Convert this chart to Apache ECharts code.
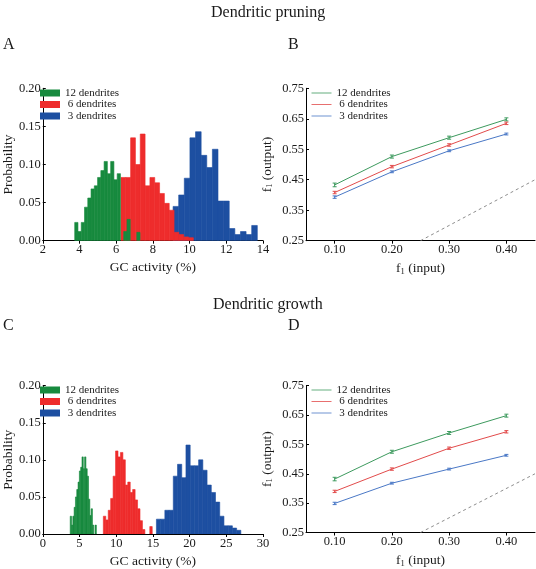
<!DOCTYPE html>
<html>
<head>
<meta charset="utf-8">
<script src="https://cdn.jsdelivr.net/npm/echarts@6/dist/echarts.min.js"></script>
<style>html,body{margin:0;padding:0;background:#fff}#c{width:536px;height:569px}</style>
</head>
<body>
<div id="c"></div>
<script>
// ---------------- DATA ----------------
const seriesNames = ['12 dendrites', ' 6 dendrites', ' 3 dendrites'];
const lineNames = ['12 dendrites ', ' 6 dendrites ', ' 3 dendrites '];

// Panel A histograms (GC activity %, probability per bin)
const greenA_start = 3.74, greenA_width = 0.178;
const greenA = [0.024, 0.012, 0.024, 0.044, 0.056, 0.068, 0.072, 0.083, 0.092, 0.104,
                0.088, 0.104, 0.080, 0.088, 0.0, 0.012, 0.028, 0.0, 0.0, 0.011];
const redA_start = 6.26, redA_width = 0.263;
const redA = [0.083, 0.083, 0.135, 0.100, 0.140, 0.072, 0.083, 0.076, 0.062, 0.049,
              0.040, 0.011, 0.008, 0.005, 0.004];
const blueA_start = 9.10, blueA_width = 0.306;
const blueA = [0.045, 0.060, 0.082, 0.135, 0.143, 0.112, 0.096, 0.120, 0.052, 0.052,
               0.016, 0.008, 0.012, 0.008, 0.020];

// Panel C histograms
const greenC_start = 3.74, greenC_width = 0.178;
const greenC = [0.024, 0.012, 0.024, 0.036, 0.050, 0.060, 0.070, 0.085, 0.090, 0.104,
                0.088, 0.104, 0.088, 0.078, 0.047, 0.025, 0.034, 0.012, 0.0, 0.012];
const redC_start = 8.25, redC_width = 0.333;
const redC = [0.024, 0.019, 0.032, 0.048, 0.078, 0.112, 0.104, 0.110, 0.100, 0.066,
              0.070, 0.056, 0.060, 0.046, 0.034, 0.018, 0.006, 0.0, 0.0, 0.010];
const blueC_start = 15.48, blueC_width = 0.575;
const blueC = [0.020, 0.020, 0.032, 0.032, 0.078, 0.094, 0.076, 0.120, 0.092, 0.092,
               0.100, 0.086, 0.066, 0.056, 0.043, 0.024, 0.011, 0.011, 0.008, 0.005];

// Panels B & D: f1(output) vs f1(input)
const fIn = [0.10, 0.20, 0.30, 0.40];
const B_green = [0.433, 0.526, 0.588, 0.648];
const B_red   = [0.408, 0.493, 0.564, 0.635];
const B_blue  = [0.393, 0.476, 0.545, 0.600];
const D_green = [0.432, 0.525, 0.589, 0.648];
const D_red   = [0.390, 0.466, 0.537, 0.593];
const D_blue  = [0.349, 0.418, 0.466, 0.513];
const err_green = [0.006, 0.005, 0.005, 0.005];
const err_red   = [0.004, 0.004, 0.004, 0.004];
const err_blue  = [0.004, 0.003, 0.003, 0.003];
const identity = [[0.25, 0.25], [0.45, 0.45]];

const histXTicksA = [2, 14, 2];
const histXTicksC = [0, 30, 5];
const probTicks = [0, 0.2, 0.05];
const fInTicks = [0.10, 0.20, 0.30, 0.40];
const fOutTicks = [0.25, 0.35, 0.45, 0.55, 0.65, 0.75];

// ---------------- STYLE ----------------
const FONT = 'Liberation Serif';
const HCOL = ['#178a3e', '#ee2c2c', '#1d4fa1'];
const LCOL = ['#3d9a5e', '#e24b4b', '#4a78c6'];
const TXT = '#1a1a1a';

function bins(start, width, h) {
  return h.map((v, i) => [start + i * width, start + (i + 1) * width, v]);
}

function histSeries(name, color, data, idx) {
  return {
    type: 'custom', name: name, xAxisIndex: idx, yAxisIndex: idx,
    itemStyle: { color: color },
    encode: { x: [0, 1], y: 2 },
    data: data,
    clip: true,
    renderItem: function (params, api) {
      const p0 = api.coord([api.value(0), 0]);
      const p1 = api.coord([api.value(1), api.value(2)]);
      if (api.value(2) <= 0) return null;
      return {
        type: 'rect',
        shape: { x: p0[0], y: p1[1], width: p1[0] - p0[0], height: p0[1] - p1[1] },
        style: { fill: color, stroke: color, lineWidth: 0.6 }
      };
    }
  };
}

function lineSeries(name, color, ys, idx) {
  return {
    type: 'line', name: name, xAxisIndex: idx, yAxisIndex: idx,
    data: fIn.map((x, i) => [x, ys[i]]),
    symbol: 'none', lineStyle: { color: color, width: 1 }, itemStyle: { color: color },
    silent: true, z: 3
  };
}

function errSeries(color, ys, errs, idx) {
  return {
    type: 'custom', xAxisIndex: idx, yAxisIndex: idx,
    data: fIn.map((x, i) => [x, ys[i], errs[i]]),
    encode: { x: 0, y: 1 },
    z: 4, silent: true,
    renderItem: function (params, api) {
      const x = api.value(0), y = api.value(1), e = api.value(2);
      const lo = api.coord([x, y - e]), hi = api.coord([x, y + e]);
      const st = { stroke: color, lineWidth: 1 };
      return {
        type: 'group', children: [
          { type: 'line', shape: { x1: lo[0], y1: lo[1], x2: hi[0], y2: hi[1] }, style: st },
          { type: 'line', shape: { x1: lo[0] - 2, y1: lo[1], x2: lo[0] + 2, y2: lo[1] }, style: st },
          { type: 'line', shape: { x1: hi[0] - 2, y1: hi[1], x2: hi[0] + 2, y2: hi[1] }, style: st }
        ]
      };
    }
  };
}

function identitySeries(idx) {
  return {
    type: 'line', xAxisIndex: idx, yAxisIndex: idx, data: identity, symbol: 'none', silent: true,
    lineStyle: { color: '#808080', width: 0.9, type: [3, 3] }, z: 1
  };
}

const axisLineStyle = { show: true, lineStyle: { color: '#000', width: 1 } };
const labelStyle = { color: TXT, fontFamily: FONT, fontSize: 12.5 };
const nameStyle = { color: TXT, fontFamily: FONT, fontSize: 13.5 };
const richName = {
  a: { fontFamily: FONT, fontSize: 13.5, color: TXT, lineHeight: 16, verticalAlign: 'middle' },
  s: { fontFamily: FONT, fontSize: 8.5, color: TXT, lineHeight: 16, verticalAlign: 'middle', padding: [6, 0, 0, 0] }
};

function histX(idx, t) {
  return {
    type: 'value', gridIndex: idx, min: t[0], max: t[1], interval: t[2],
    axisLine: axisLineStyle, splitLine: { show: false },
    axisTick: { show: true, inside: false, length: 3, lineStyle: { color: '#000' } },
    axisLabel: Object.assign({ margin: 3 }, labelStyle),
    name: 'GC activity (%)', nameLocation: 'middle', nameGap: 20, nameTextStyle: nameStyle
  };
}
function histY(idx) {
  return {
    type: 'value', gridIndex: idx, min: probTicks[0], max: probTicks[1], interval: probTicks[2],
    axisLine: axisLineStyle, splitLine: { show: false },
    axisTick: { show: true, inside: true, length: 3, lineStyle: { color: '#000' } },
    axisLabel: Object.assign({ margin: 2, formatter: v => v.toFixed(2) }, labelStyle),
    name: 'Probability', nameLocation: 'middle', nameGap: 26, nameRotate: 90, nameTextStyle: nameStyle
  };
}
function fX(idx) {
  return {
    type: 'value', gridIndex: idx, min: 0.05, max: 0.45,
    axisLine: axisLineStyle, splitLine: { show: false },
    axisTick: { show: true, inside: false, length: 3, customValues: fInTicks, lineStyle: { color: '#000' } },
    axisLabel: Object.assign({ margin: 3, customValues: fInTicks, formatter: v => v.toFixed(2) }, labelStyle),
    name: '{a|f}{s|1}{a| (input)}', nameLocation: 'middle', nameGap: 20,
    nameTextStyle: { rich: richName }
  };
}
function fY(idx) {
  return {
    type: 'value', gridIndex: idx, min: 0.25, max: 0.75,
    axisLine: axisLineStyle, splitLine: { show: false },
    axisTick: { show: true, inside: true, length: 3, customValues: fOutTicks, lineStyle: { color: '#000' } },
    axisLabel: Object.assign({ margin: 2, customValues: fOutTicks, formatter: v => v.toFixed(2) }, labelStyle),
    name: '{a|f}{s|1}{a| (output)}', nameLocation: 'middle', nameGap: 31, nameRotate: 90,
    nameTextStyle: { rich: richName }
  };
}

function legendCfg(left, top, names, icon) {
  return {
    left: left, top: top, orient: 'vertical', padding: 0, itemGap: 0.5,
    itemWidth: 20, itemHeight: 7, itemTextGap: 2, icon: icon,
    selectedMode: false, data: names,
    textStyle: { fontFamily: FONT, fontSize: 11, color: TXT, lineHeight: 10 }
  };
}

function titleCfg(text, left, top, size) {
  return { text: text, left: left, top: top, padding: 0,
    textStyle: { fontFamily: FONT, fontSize: size, fontWeight: 'normal', color: TXT } };
}

const option = {
  animation: false,
  backgroundColor: '#fff',
  title: [
    titleCfg('Dendritic pruning', 211, 5, 16),
    titleCfg('A', 3, 37, 16),
    titleCfg('B', 288, 37, 16),
    titleCfg('Dendritic growth', 213, 297, 16),
    titleCfg('C', 3, 318, 16),
    titleCfg('D', 288, 318, 16)
  ],
  grid: [
    { left: 35, top: 88.3, width: 228, height: 152.4 },
    { left: 306, top: 88.3, width: 229, height: 152.4 },
    { left: 35, top: 385.7, width: 228, height: 152 },
    { left: 306, top: 385.7, width: 229, height: 152 }
  ],
  xAxis: [histX(0, histXTicksA), fX(1), histX(2, histXTicksC), fX(3)],
  yAxis: [histY(0), fY(1), histY(2), fY(3)],
  legend: [
    legendCfg(40, 87.5, seriesNames, 'rect'),
    legendCfg(311.5, 87.5, lineNames, 'path://M0,3.5L20,3.5L20,4.3L0,4.3Z'),
    legendCfg(40, 384.5, seriesNames, 'rect'),
    legendCfg(311.5, 384.5, lineNames, 'path://M0,3.5L20,3.5L20,4.3L0,4.3Z')
  ],
  series: [
    histSeries(seriesNames[2], HCOL[2], bins(blueA_start, blueA_width, blueA), 0),
    histSeries(seriesNames[1], HCOL[1], bins(redA_start, redA_width, redA), 0),
    histSeries(seriesNames[0], HCOL[0], bins(greenA_start, greenA_width, greenA), 0),

    histSeries(seriesNames[2], HCOL[2], bins(blueC_start, blueC_width, blueC), 2),
    histSeries(seriesNames[1], HCOL[1], bins(redC_start, redC_width, redC), 2),
    histSeries(seriesNames[0], HCOL[0], bins(greenC_start, greenC_width, greenC), 2),

    identitySeries(1),
    lineSeries(lineNames[0], LCOL[0], B_green, 1),
    lineSeries(lineNames[1], LCOL[1], B_red, 1),
    lineSeries(lineNames[2], LCOL[2], B_blue, 1),
    errSeries(LCOL[0], B_green, err_green, 1),
    errSeries(LCOL[1], B_red, err_red, 1),
    errSeries(LCOL[2], B_blue, err_blue, 1),

    identitySeries(3),
    lineSeries(lineNames[0], LCOL[0], D_green, 3),
    lineSeries(lineNames[1], LCOL[1], D_red, 3),
    lineSeries(lineNames[2], LCOL[2], D_blue, 3),
    errSeries(LCOL[0], D_green, err_green, 3),
    errSeries(LCOL[1], D_red, err_red, 3),
    errSeries(LCOL[2], D_blue, err_blue, 3)
  ]
};

const chart = echarts.init(document.getElementById('c'), null, { renderer: 'canvas' });
chart.setOption(option);
</script>
</body>
</html>
